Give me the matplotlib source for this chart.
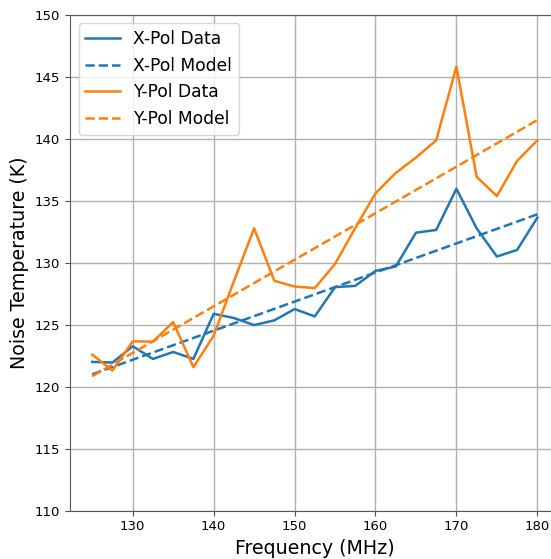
import matplotlib
matplotlib.use("Agg")
import matplotlib.pyplot as plt

# measured noise temperature vs frequency
freq = [125, 127.5, 130, 132.5, 135, 137.5, 140, 142.5, 145, 147.5, 150, 152.5,
        155, 157.5, 160, 162.5, 165, 167.5, 170, 172.5, 175, 177.5, 180]
xpol_data = [122.0, 121.95, 123.26, 122.24, 122.8, 122.24, 125.88, 125.54, 124.97, 125.35,
             126.26, 125.67, 128.03, 128.13, 129.34, 129.69, 132.42, 132.64, 135.96,
             132.77, 130.5, 131.03, 133.63]
ypol_data = [122.59, 121.3, 123.66, 123.63, 125.21, 121.57, 124.12, 128.5, 132.77, 128.54,
             128.08, 127.95, 129.9, 132.8, 135.6, 137.24, 138.48, 139.87, 145.82,
             136.92, 135.37, 138.21, 139.87]

# linear model end points
model_freq = [125, 180]
xpol_model = [121.0, 133.9]
ypol_model = [120.85, 141.5]

fig = plt.figure(figsize=(5.51, 5.59), dpi=100)
ax = fig.add_axes([70 / 551, (559 - 510.7) / 559, 489.6 / 551, 496 / 559])

ax.plot(freq, xpol_data, color="tab:blue", lw=1.8, label="X-Pol Data")
ax.plot(model_freq, xpol_model, "--", color="tab:blue", lw=1.8, label="X-Pol Model")
ax.plot(freq, ypol_data, color="tab:orange", lw=1.8, label="Y-Pol Data")
ax.plot(model_freq, ypol_model, "--", color="tab:orange", lw=1.8, label="Y-Pol Model")

ax.set_xlim(122.25, 182.75)
ax.set_ylim(110, 150)
ax.set_xticks([130, 140, 150, 160, 170, 180])
ax.grid(True, color="#b0b0b0", lw=1.0)
ax.set_xlabel("Frequency (MHz)", fontsize=13.7)
ax.set_ylabel("Noise Temperature (K)", fontsize=13.7)
ax.tick_params(labelsize=9.5, color="0.3")
for s in ax.spines.values():
    s.set_color("0.35")
ax.legend(loc="upper left", fontsize=12.3)

fig.savefig("out.png", dpi=100)
